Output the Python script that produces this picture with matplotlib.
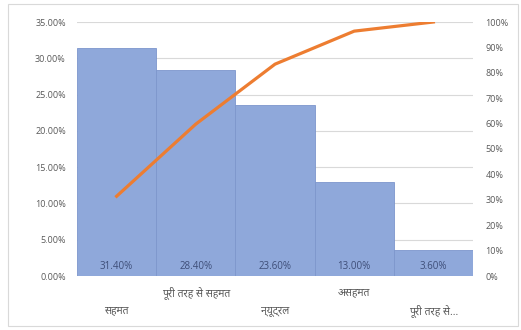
import matplotlib
matplotlib.use("Agg")
import matplotlib.pyplot as plt
from matplotlib.patches import Rectangle
from matplotlib.ticker import FuncFormatter, MultipleLocator

categories = ["सहमत", "पूरी तरह से सहमत", "न्यूट्रल", "असहमत", "पूरी तरह से..."]
shares = [31.40, 28.40, 23.60, 13.00, 3.60]
cumulative = [31.4, 59.8, 83.4, 96.4, 100.0]

plt.rcParams['font.family'] = ['Noto Sans Devanagari', 'DejaVu Sans']
txt = '#595959'

fig = plt.figure(figsize=(5.21, 3.3), dpi=100)
ax = fig.add_axes([77 / 521, 1 - 276 / 330, 396 / 521, 254 / 330])
x = list(range(len(categories)))

# bars
ax.bar(x, shares, width=1.0, color='#8FA8DA', edgecolor='#7D96CC', linewidth=0.6, zorder=2)
for xi, v in zip(x, shares):
    ax.text(xi, 0.6, f"{v:.2f}%", ha='center', va='bottom', fontsize=7,
            color='#3E4E78', family=['Open Sans'], zorder=3)

ax.set_xlim(-0.5, len(categories) - 0.5)
ax.set_ylim(0, 35)
ax.yaxis.set_major_locator(MultipleLocator(5))
ax.yaxis.set_major_formatter(FuncFormatter(lambda v, p: f"{v:.2f}%"))
ax.grid(axis='y', color='#D9D9D9', linewidth=0.8, zorder=0)
ax.set_axisbelow(True)
for s in ax.spines.values():
    s.set_visible(False)
ax.tick_params(axis='y', length=0, labelsize=6.5, labelcolor=txt, pad=8)
for lab in ax.get_yticklabels():
    lab.set_family('Open Sans')
ax.set_xticks(x)
ax.set_xticklabels([])
ax.tick_params(axis='x', length=0)

# category labels, staggered like Excel does it
for xi, name in zip(x, categories):
    off = -25 if xi % 2 == 0 else -12
    ax.annotate(name, xy=(xi, 0), xycoords='data', xytext=(0, off),
                textcoords='offset points', ha='center', va='center',
                fontsize=7.5, color=txt)

# cumulative line on the right axis
ax2 = ax.twinx()
ax2.plot(x, cumulative, color='#ED7D31', linewidth=2.3, zorder=4)
ax2.set_ylim(0, 100)
ax2.yaxis.set_major_locator(MultipleLocator(10))
ax2.yaxis.set_major_formatter(FuncFormatter(lambda v, p: f"{v:.0f}%"))
for s in ax2.spines.values():
    s.set_visible(False)
ax2.tick_params(axis='y', length=0, labelsize=6.5, labelcolor=txt, pad=9)
for lab in ax2.get_yticklabels():
    lab.set_family('Open Sans')

# chart border
fig.patches.append(Rectangle((8 / 521, 4 / 330), 510 / 521, 322 / 330,
                             transform=fig.transFigure, fill=False,
                             edgecolor='#D9D9D9', linewidth=0.8))

fig.savefig("out.png", dpi=100)
